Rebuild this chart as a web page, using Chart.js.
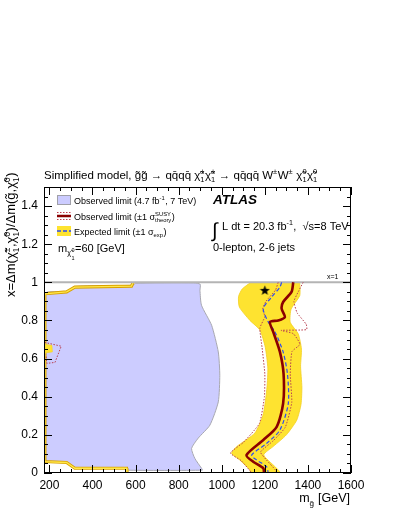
<!DOCTYPE html>
<html>
<head>
<meta charset="utf-8">
<script src="https://cdn.jsdelivr.net/npm/chart.js@4.4.1/dist/chart.umd.min.js"></script>
<style>
  html, body { margin: 0; padding: 0; background: #fff; }
  canvas { display: block; }
</style>
</head>
<body>
<canvas id="c" width="399" height="516"></canvas>
<script>
// axis ticks
const xTicks = [200, 400, 600, 800, 1000, 1200, 1400, 1600];
const yTicks = [0, 0.2, 0.4, 0.6, 0.8, 1, 1.2, 1.4];

// [m_gluino (GeV), x]
// 7 TeV observed excluded region (closed outline)
const obs7TeV = [
  [180, 0.06], [180, 0.94], [280, 0.95], [318, 0.978], [590, 0.985], [600, 0.995],
  [870, 0.997], [900, 0.99], [899, 0.958], [906, 0.88], [953, 0.775], [984, 0.635],
  [991, 0.513], [984, 0.373], [945, 0.251], [891, 0.183], [860, 0.129], [875, 0.077],
  [906, 0.025], [910, 0.015], [560, 0.015], [558, 0.025], [318, 0.025], [280, 0.055], [180, 0.06]
];

// expected +-1 sigma band, right contour (left edge down, right edge up)
const expBand = [
  [1135, 1.0], [1095, 0.965], [1078, 0.925], [1082, 0.87], [1131, 0.80], [1177, 0.75],
  [1202, 0.66], [1214, 0.55], [1210, 0.45], [1193, 0.31], [1154, 0.21], [1069, 0.138],
  [1046, 0.103], [1084, 0.068], [1131, 0.016], [1135, 0],
  [1272, 0], [1250, 0.03], [1195, 0.095], [1240, 0.14], [1300, 0.2], [1348, 0.277],
  [1368, 0.36], [1372, 0.45], [1366, 0.56], [1370, 0.65], [1355, 0.73], [1318, 0.79],
  [1322, 0.86], [1362, 0.93], [1362, 1.0]
];

// expected band edge around the low-mass region
const expBandLow = [
  [589, 1.0], [581, 0.98], [318, 0.975], [280, 0.95], [179, 0.94], [179, 0.06],
  [280, 0.055], [318, 0.025], [558, 0.025], [560, 0.0]
];
const expIsland = [[180, 0.675], [212, 0.67], [214, 0.635], [180, 0.63], [180, 0.675]];
const theoIsland = [[178, 0.685], [255, 0.665], [226, 0.58], [188, 0.575], [184, 0.62]];

const observed = [
  [1332, 1.0], [1324, 0.95], [1285, 0.897], [1278, 0.862], [1293, 0.818], [1262, 0.80],
  [1224, 0.792], [1239, 0.74], [1270, 0.635], [1287, 0.52], [1285, 0.365], [1255, 0.242],
  [1193, 0.173], [1115, 0.094], [1146, 0.059], [1193, 0.025], [1196, 0]
];
const expected = [
  [1278, 1.0], [1270, 0.975], [1232, 0.923], [1193, 0.862], [1216, 0.792], [1247, 0.74],
  [1285, 0.635], [1305, 0.52], [1309, 0.365], [1270, 0.225], [1208, 0.155], [1139, 0.094],
  [1162, 0.068], [1208, 0.033], [1216, 0]
];
const theoryDown = [
  [1262, 1.0], [1250, 0.96], [1205, 0.9], [1190, 0.86], [1200, 0.82], [1177, 0.76],
  [1187, 0.66], [1200, 0.52], [1198, 0.4], [1175, 0.26], [1100, 0.16], [1040, 0.105],
  [1090, 0.065], [1140, 0.0]
];
const theoryUp = [
  [1378, 1.0], [1355, 0.95], [1335, 0.90], [1350, 0.84], [1392, 0.78], [1394, 0.752],
  [1275, 0.748], [1332, 0.731], [1363, 0.675], [1326, 0.637], [1318, 0.52], [1325, 0.37],
  [1295, 0.24], [1240, 0.17], [1180, 0.11], [1208, 0.068], [1248, 0.017], [1250, 0]
];
const xEqualsOne = [[175, 1], [1600, 1]];
const bestPoint = [[1200, 0.958]];

const FONT = "'Liberation Sans', Arial, Helvetica, sans-serif";
const pts = arr => arr.map(([x, y]) => ({ x, y }));

// filled star marker
const star = document.createElement('canvas');
star.width = 11; star.height = 11;
(function () {
  const c = star.getContext('2d');
  c.beginPath();
  for (let i = 0; i < 10; i++) {
    const r = i % 2 === 0 ? 5.3 : 2.2;
    const a = -Math.PI / 2 + i * Math.PI / 5;
    c.lineTo(5.5 + r * Math.cos(a), 5.8 + r * Math.sin(a));
  }
  c.closePath();
  c.fillStyle = '#000';
  c.fill();
})();

// text with super/subscripts
function rich(ctx, parts, x, y, size, draw) {
  let cx = x;
  parts.forEach(p => {
    if (typeof p === 'string') {
      ctx.font = size + 'px ' + FONT;
      if (draw) ctx.fillText(p, cx, y);
      cx += ctx.measureText(p).width;
    } else {
      const s = size * (p.scale || 0.65);
      const base = y + (p.dy || 0);
      ctx.font = s + 'px ' + FONT;
      let w = 0;
      if (p.sup) {
        if (draw) ctx.fillText(p.sup, cx, base - (p.supOff || size * 0.42));
        w = Math.max(w, ctx.measureText(p.sup).width);
      }
      if (p.sub) {
        if (draw) ctx.fillText(p.sub, cx, base + (p.subOff || size * 0.28));
        w = Math.max(w, ctx.measureText(p.sub).width);
      }
      cx += w + 0.5;
    }
  });
  return cx - x;
}

const chi = '\u03C7\u0303';
const titleParts = ['Simplified model, g\u0303g\u0303 \u2192 qq\u0304qq\u0304 ' + chi, { sup: '\u00B1', sub: '1' },
  chi, { sup: '\u00B1', sub: '1' }, ' \u2192 qq\u0304qq\u0304 W', { sup: '\u00B1' }, 'W', { sup: '\u00B1' },
  ' ' + chi, { sup: '0', sub: '1' }, chi, { sup: '0', sub: '1' }];
const yTitleParts = ['x=\u0394m(' + chi, { sup: '\u00B1', sub: '1' }, ',' + chi, { sup: '0', sub: '1' },
  ')/\u0394m(g\u0303,' + chi, { sup: '0', sub: '1' }, ')'];

const frameTicks = {
  id: 'frameTicks',
  afterDatasetsDraw(chart) {
    const { ctx, chartArea: a, scales: { x, y } } = chart;
    ctx.save();
    ctx.strokeStyle = '#000';
    ctx.lineWidth = 1;
    ctx.strokeRect(a.left + 0.5, a.top + 0.5, a.right - a.left - 1, a.bottom - a.top - 1);
    ctx.beginPath();
    for (let m = 200; m <= 1600; m += 50) {
      const px = Math.round(x.getPixelForValue(m)) + 0.5;
      const len = m % 200 === 0 ? 8 : 4;
      ctx.moveTo(px, a.bottom); ctx.lineTo(px, a.bottom - len);
      ctx.moveTo(px, a.top); ctx.lineTo(px, a.top + len);
    }
    for (let k = 0; k <= 30; k++) {
      const v = k * 0.05;
      const py = Math.round(y.getPixelForValue(v)) + 0.5;
      const len = k % 4 === 0 ? 8 : 4;
      ctx.moveTo(a.left, py); ctx.lineTo(a.left + len, py);
      ctx.moveTo(a.right, py); ctx.lineTo(a.right - len, py);
    }
    ctx.stroke();
    ctx.restore();
  },
  afterDraw(chart) {
    const ctx = chart.ctx;
    ctx.save();
    ctx.fillStyle = '#000';
    ctx.textAlign = 'left';
    ctx.textBaseline = 'alphabetic';

    rich(ctx, titleParts, 44, 179, 11.5, true);

    // y title
    ctx.save();
    ctx.translate(15, 297);
    ctx.rotate(-Math.PI / 2);
    rich(ctx, yTitleParts, 0, 0, 13, true);
    ctx.restore();

    // x title, right aligned
    const xt = ['m', { sub: 'g\u0303', subOff: 4 }, ' [GeV]'];
    const w = rich(ctx, xt, 0, 0, 12.5, false);
    rich(ctx, xt, 350 - w, 502, 12.5, true);

    // legend
    ctx.fillStyle = '#ccccff';
    ctx.fillRect(57, 195, 14, 10);
    ctx.strokeStyle = '#a0a0a8';
    ctx.lineWidth = 1;
    ctx.strokeRect(57.5, 195.5, 13, 9);
    ctx.fillStyle = '#000';
    rich(ctx, ['Observed limit (4.7 fb', { sup: '-1' }, ', 7 TeV)'], 74, 203.5, 9, true);

    ctx.strokeStyle = '#8b0000';
    ctx.lineWidth = 2.5;
    ctx.beginPath(); ctx.moveTo(57, 216); ctx.lineTo(71, 216); ctx.stroke();
    ctx.strokeStyle = '#c04050';
    ctx.lineWidth = 1;
    ctx.setLineDash([1.5, 1.5]);
    ctx.beginPath();
    ctx.moveTo(57, 212.5); ctx.lineTo(71, 212.5);
    ctx.moveTo(57, 219.5); ctx.lineTo(71, 219.5);
    ctx.stroke();
    ctx.setLineDash([]);
    ctx.fillStyle = '#000';
    rich(ctx, ['Observed limit (\u00B11 \u03C3', { sup: 'SUSY', sub: 'theory', scale: 0.65 }, ')'], 74, 219.5, 9, true);

    ctx.fillStyle = '#fee330';
    ctx.fillRect(57, 226, 14, 10);
    ctx.strokeStyle = '#2d4cf0';
    ctx.lineWidth = 1.3;
    ctx.setLineDash([4, 2]);
    ctx.beginPath(); ctx.moveTo(57, 231); ctx.lineTo(71, 231); ctx.stroke();
    ctx.setLineDash([]);
    ctx.fillStyle = '#000';
    rich(ctx, ['Expected limit (\u00B11 \u03C3', { sub: 'exp' }, ')'], 74, 234.5, 9, true);

    rich(ctx, ['m', { sub: chi, subOff: 3 }, { sup: '0', sub: '1', scale: 0.5, supOff: 0.5, subOff: 8 }, '=60 [GeV]'], 58, 252, 11, true);

    // ATLAS label
    ctx.font = 'italic bold 13.5px ' + FONT;
    ctx.fillText('ATLAS', 213, 204);
    ctx.font = '20px ' + FONT;
    ctx.fillText('\u222B', 212, 237);
    rich(ctx, ['L dt = 20.3 fb', { sup: '-1' }, ',  \u221As=8 TeV'], 222, 230, 11, true);
    ctx.font = '11px ' + FONT;
    ctx.fillText('0-lepton, 2-6 jets', 213, 251);
    ctx.font = '7px ' + FONT;
    ctx.fillText('x=1', 327, 279);
    ctx.restore();
  }
};

const line = (data, color, width, dash, order, extra) => Object.assign({
  data: pts(data), showLine: true, fill: false, borderColor: color, borderWidth: width,
  borderDash: dash || [], pointRadius: 0, pointHoverRadius: 0, tension: 0.25, order
}, extra || {});

new Chart(document.getElementById('c'), {
  type: 'scatter',
  data: {
    datasets: [
      line(bestPoint, '#000', 0, null, 0, { showLine: false, pointStyle: star, pointRadius: 5 }),
      line(observed, '#8b0000', 2.6, null, 1),
      line(expected, '#2d4cf0', 1.2, [4, 2.5], 2),
      line(theoryUp, '#b84050', 1, [1.5, 1.5], 3, { tension: 0.15 }),
      line(theoryDown, '#b84050', 1, [1.5, 1.5], 3, { tension: 0.15 }),
      line(theoIsland, '#b84050', 1, [1.5, 1.5], 3, { tension: 0 }),
      line(xEqualsOne, '#b4b4b4', 2, null, 4, { tension: 0 }),
      line(expBand, '#f2cf20', 0.8, null, 5, { fill: 'shape', backgroundColor: '#fee330', tension: 0.2 }),
      line(expIsland, '#f2cf20', 0.5, null, 6, { fill: 'shape', backgroundColor: '#fee330', tension: 0 }),
      line(expBandLow, '#ffe84a', 1.3, null, 6, { tension: 0 }),
      line(expBandLow, '#d9a000', 3.2, null, 7, { tension: 0 }),
      line(obs7TeV, '#a8a8b0', 1, null, 8, { fill: 'shape', backgroundColor: '#ccccff', tension: 0.2 })
    ]
  },
  options: {
    responsive: false,
    animation: false,
    events: [],
    layout: { padding: { left: 0, right: 48, top: 187, bottom: 0 } },
    plugins: { legend: { display: false }, tooltip: { enabled: false } },
    scales: {
      x: {
        type: 'linear', min: 175, max: 1600,
        grid: { display: false, drawTicks: false }, border: { display: false },
        afterBuildTicks: s => { s.ticks = xTicks.map(v => ({ value: v })); },
        afterFit: s => { s.height = 43; },
        ticks: { font: { size: 12, family: FONT }, color: '#000', padding: 5, maxRotation: 0, autoSkip: false, callback: v => String(v) }
      },
      y: {
        type: 'linear', min: 0, max: 1.5,
        grid: { display: false, drawTicks: false }, border: { display: false },
        afterBuildTicks: s => { s.ticks = yTicks.map(v => ({ value: v })); },
        afterFit: s => { s.width = 44; },
        ticks: { font: { size: 12, family: FONT }, color: '#000', padding: 6, autoSkip: false, callback: v => String(v) }
      }
    }
  },
  plugins: [frameTicks]
});
</script>
</body>
</html>
